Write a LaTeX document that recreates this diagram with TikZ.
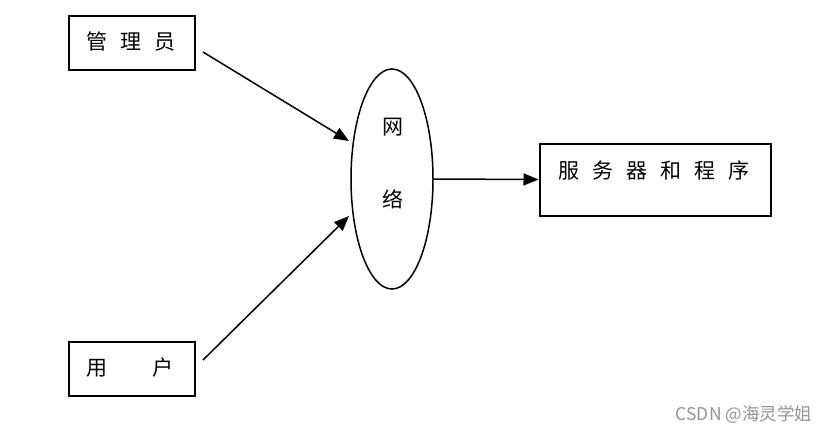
\documentclass[tikz,border=0pt]{standalone}
\usepackage{fontspec}
\setmainfont{Noto Sans CJK SC}
\newfontfamily\cjk{Noto Sans CJK SC}
\usetikzlibrary{shapes.geometric,arrows.meta}
\tikzset{
  boxnode/.style={draw=black, line width=2pt, inner sep=0pt, fill=white},
  lbl/.style={inner sep=0pt, font=\cjk\fontsize{21}{25}\selectfont},
  net/.style={draw=black, ellipse, line width=1.5pt, inner sep=0pt, minimum width=82pt, minimum height=220pt},
  conn/.style={line width=1.5pt, -{Triangle[length=15pt,width=12pt]}},
  wm/.style={inner sep=0pt, text=black!42, font=\cjk\fontsize{17.5}{20}\selectfont}
}
\begin{document}
\begin{tikzpicture}[x=1pt,y=-1pt]
\useasboundingbox (0,0) rectangle (827,434);
\fill[white] (0,0) rectangle (827,434);
% boxes
\node[boxnode, minimum width=126pt, minimum height=54pt] (admin) at (132,43) {};
\node[lbl] (adminT) at (131,42) {管\hspace{13pt}理\hspace{13pt}员};
\node[boxnode, minimum width=126pt, minimum height=54pt] (user) at (132,368.5) {};
\node[lbl] (userT) at (130,368) {用\hspace{45pt}户};
\node[boxnode, minimum width=231pt, minimum height=72pt] (srv) at (655,179.5) {};
\node[lbl] (srvT) at (654,170) {服\hspace{13pt}务\hspace{13pt}器\hspace{13pt}和\hspace{13pt}程\hspace{13pt}序};
% network ellipse
\node[net] (net) at (392,179) {};
\node[lbl] (net1) at (393,127) {网};
\node[lbl] (net2) at (393,199) {络};
% connector ends
\coordinate (s1) at (203,52);
\coordinate (t1) at (349,141);
\coordinate (s2) at (203,360);
\coordinate (t2) at (349,216);
\draw[conn] (s1) -- (t1);
\draw[conn] (s2) -- (t2);
\draw[conn] (net.east) -- (srv.west);
% watermark
\node[wm] (wm) at (744,415) {CSDN @海灵学姐};
\end{tikzpicture}
\end{document}
